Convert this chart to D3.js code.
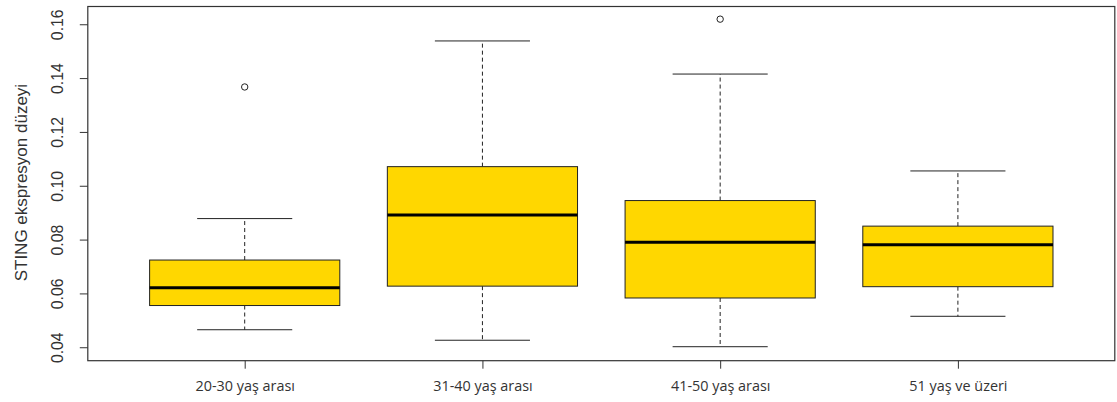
<!DOCTYPE html>
<html>
<head>
<meta charset="utf-8">
<script src="https://cdn.jsdelivr.net/npm/d3@7"></script>
<style>
  html, body { margin: 0; padding: 0; background: #fff; }
  svg { display: block; }
</style>
</head>
<body>
<script>
// Age groups and their box-plot statistics
const categories = ["20-30 yaş arası", "31-40 yaş arası", "41-50 yaş arası", "51 yaş ve üzeri"];
const whiskerLow  = [0.0465, 0.0426, 0.0402, 0.0515];
const q1          = [0.0555, 0.0627, 0.0583, 0.0625];
const medians     = [0.0621, 0.0891, 0.0790, 0.0781];
const q3          = [0.0724, 0.1071, 0.0945, 0.0850];
const whiskerHigh = [0.0878, 0.1538, 0.1415, 0.1055];
const outliers    = [[0.1367], [], [0.1619], []];
const yTicks      = [0.04, 0.06, 0.08, 0.10, 0.12, 0.14, 0.16];
const yTitle      = "STING ekspresyon düzeyi";

const W = 1117, H = 402;
const svg = d3.select("body").append("svg").attr("width", W).attr("height", H);

// group positions 1..4 with the usual padding on both sides
const x = d3.scaleLinear().domain([0.34, 4.66]).range([87.8, 1114.8]);
const y = d3.scaleLinear().domain([0.0350, 0.1666]).range([360.7, 6.5]);

const boxHalf = 0.4, capHalf = 0.2;
const ink = "#222";

const groups = categories.map((c, i) => ({
  name: c, pos: i + 1,
  lo: whiskerLow[i], q1: q1[i], med: medians[i], q3: q3[i], hi: whiskerHigh[i],
  out: outliers[i]
}));

const g = svg.append("g");

// whiskers (dashed) from box edges to caps
g.selectAll(".whisker-up").data(groups).join("line")
  .attr("x1", d => x(d.pos)).attr("x2", d => x(d.pos))
  .attr("y1", d => y(d.q3)).attr("y2", d => y(d.hi))
  .attr("stroke", ink).attr("stroke-width", 1).attr("stroke-dasharray", "4,3");
g.selectAll(".whisker-down").data(groups).join("line")
  .attr("x1", d => x(d.pos)).attr("x2", d => x(d.pos))
  .attr("y1", d => y(d.q1)).attr("y2", d => y(d.lo))
  .attr("stroke", ink).attr("stroke-width", 1).attr("stroke-dasharray", "4,3");

// caps
[["hi"], ["lo"]].forEach(([k]) => {
  g.selectAll(".cap-" + k).data(groups).join("line")
    .attr("x1", d => x(d.pos - capHalf)).attr("x2", d => x(d.pos + capHalf))
    .attr("y1", d => y(d[k])).attr("y2", d => y(d[k]))
    .attr("stroke", ink).attr("stroke-width", 1);
});

// boxes
g.selectAll(".box").data(groups).join("rect")
  .attr("x", d => x(d.pos - boxHalf))
  .attr("width", d => x(d.pos + boxHalf) - x(d.pos - boxHalf))
  .attr("y", d => y(d.q3))
  .attr("height", d => y(d.q1) - y(d.q3))
  .attr("fill", "#FFD700").attr("stroke", ink).attr("stroke-width", 1);

// medians
g.selectAll(".median").data(groups).join("line")
  .attr("x1", d => x(d.pos - boxHalf)).attr("x2", d => x(d.pos + boxHalf))
  .attr("y1", d => y(d.med)).attr("y2", d => y(d.med))
  .attr("stroke", "#000").attr("stroke-width", 3);

// outliers
const outPts = groups.flatMap(d => d.out.map(v => ({ pos: d.pos, v })));
g.selectAll(".outlier").data(outPts).join("circle")
  .attr("cx", d => x(d.pos)).attr("cy", d => y(d.v)).attr("r", 3.2)
  .attr("fill", "none").attr("stroke", ink).attr("stroke-width", 1);

// frame
const [xl, xr] = x.range();
const [yb, yt] = y.range();
svg.append("rect")
  .attr("x", xl).attr("y", yt).attr("width", xr - xl).attr("height", yb - yt)
  .attr("fill", "none").attr("stroke", "#333").attr("stroke-width", 1.2);

// y axis
const yAxis = svg.append("g")
  .attr("transform", `translate(${xl},0)`)
  .call(d3.axisLeft(y).tickValues(yTicks).tickSize(8).tickFormat(d3.format(".2f")));
yAxis.select(".domain").remove();
yAxis.selectAll(".tick line").attr("stroke", "#333");
yAxis.selectAll(".tick text")
  .attr("transform", "rotate(-90)")
  .attr("x", 0).attr("y", -24.5).attr("dy", 0)
  .attr("text-anchor", "middle")
  .attr("fill", "#333")
  .style("font-family", "'Liberation Sans', Arial, sans-serif")
  .style("font-size", "15.8px");

// x axis
const xAxis = svg.append("g")
  .attr("transform", `translate(0,${yb})`)
  .call(d3.axisBottom(x).tickValues(groups.map(d => d.pos)).tickSize(8)
    .tickFormat((d, i) => categories[i]));
xAxis.select(".domain").remove();
xAxis.selectAll(".tick line").attr("stroke", "#333");
xAxis.selectAll(".tick text")
  .attr("y", 30.5).attr("dy", 0)
  .attr("fill", "#333")
  .style("font-family", "'Open Sans', sans-serif")
  .style("font-size", "14.4px");

// y title
svg.append("text")
  .attr("transform", `translate(26.7,${(yb + yt) / 2 - 1}) rotate(-90)`)
  .attr("text-anchor", "middle")
  .attr("fill", "#333")
  .style("font-family", "'Liberation Sans', Arial, sans-serif")
  .style("font-size", "17px")
  .text(yTitle);
</script>
</body>
</html>
